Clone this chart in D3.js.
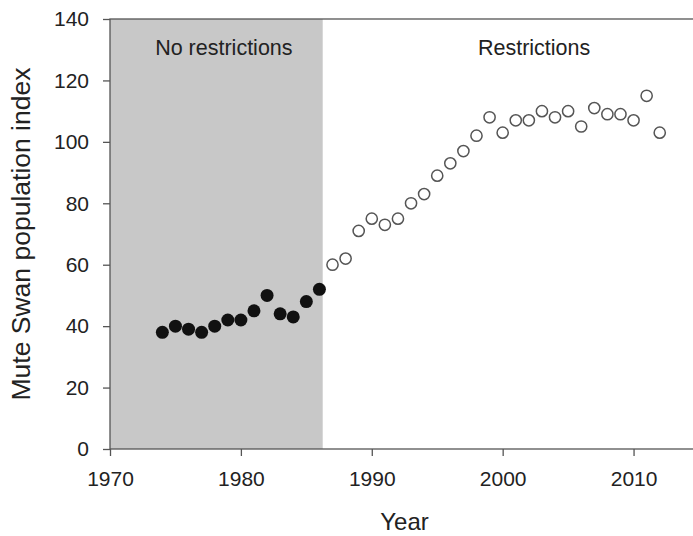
<!DOCTYPE html>

<head>
    <meta charset="utf-8">
    <title>Mute Swan</title>
    <style>
        body { margin: 0; background: #fff; }
        svg { display: block; font-family: "Liberation Sans", Arial, sans-serif; }
        .axis path, .axis line { stroke: #555; stroke-width: 1.3; }
        .axis text { fill: #222; font-size: 21px; }
    </style>
</head>

<body>
    <script src="https://d3js.org/d3.v7.min.js"></script>
    <script>
        // values
        var yearsBefore = [1974, 1975, 1976, 1977, 1978, 1979, 1980, 1981, 1982, 1983, 1984, 1985, 1986];
        var indexBefore = [38, 40, 39, 38, 40, 42, 42, 45, 50, 44, 43, 48, 52];
        var yearsAfter = [1987, 1988, 1989, 1990, 1991, 1992, 1993, 1994, 1995, 1996, 1997, 1998, 1999,
            2000, 2001, 2002, 2003, 2004, 2005, 2006, 2007, 2008, 2009, 2010, 2011, 2012];
        var indexAfter = [60, 62, 71, 75, 73, 75, 80, 83, 89, 93, 97, 102, 108,
            103, 107, 107, 110, 108, 110, 105, 111, 109, 109, 107, 115, 103];
        var xTicks = [1970, 1980, 1990, 2000, 2010];
        var yTicks = [0, 20, 40, 60, 80, 100, 120, 140];
        var periodEnd = 1986.25;
        var periodLabels = ["No restrictions", "Restrictions"];
        var periodLabelYears = [1978.7, 2002.4];

        var margin = {
                top: 19,
                left: 110
            },
            width = 693,
            height = 536;

        var x = d3.scaleLinear().domain([1970, 2015]).range([margin.left, 699]);
        var y = d3.scaleLinear().domain([0, 140]).range([449, margin.top]);

        var svg = d3.select("body").append("svg")
            .attr("width", width)
            .attr("height", height);

        // shaded period without restrictions
        svg.append("rect")
            .attr("x", x(1970))
            .attr("y", y(140))
            .attr("width", x(periodEnd) - x(1970))
            .attr("height", y(0) - y(140))
            .attr("fill", "#c8c8c8");

        // frame (right side falls outside the picture)
        svg.append("rect")
            .attr("x", x(1970))
            .attr("y", y(140))
            .attr("width", x(2015) - x(1970))
            .attr("height", y(0) - y(140))
            .attr("fill", "none")
            .attr("stroke", "#555")
            .attr("stroke-width", 1.3);

        svg.append("g")
            .attr("class", "axis")
            .attr("transform", "translate(0," + y(0) + ")")
            .call(d3.axisBottom(x).tickValues(xTicks).tickFormat(d3.format("d")).tickSize(7).tickPadding(15))
            .call(function (g) { g.select(".domain").remove(); });

        svg.append("g")
            .attr("class", "axis")
            .attr("transform", "translate(" + x(1970) + ",0)")
            .call(d3.axisLeft(y).tickValues(yTicks).tickSize(7).tickPadding(14))
            .call(function (g) { g.select(".domain").remove(); });

        svg.selectAll(".period-label")
            .data(periodLabels)
            .enter().append("text")
            .attr("class", "period-label")
            .attr("x", function (d, i) { return x(periodLabelYears[i]); })
            .attr("y", 55)
            .attr("text-anchor", "middle")
            .attr("fill", "#222")
            .style("font-size", "21.5px")
            .text(function (d) { return d; });

        svg.selectAll(".before")
            .data(yearsBefore)
            .enter().append("circle")
            .attr("class", "before")
            .attr("cx", function (d) { return x(d); })
            .attr("cy", function (d, i) { return y(indexBefore[i]); })
            .attr("r", 6.5)
            .attr("fill", "#111");

        svg.selectAll(".after")
            .data(yearsAfter)
            .enter().append("circle")
            .attr("class", "after")
            .attr("cx", function (d) { return x(d); })
            .attr("cy", function (d, i) { return y(indexAfter[i]); })
            .attr("r", 5.6)
            .attr("fill", "#fff")
            .attr("stroke", "#555")
            .attr("stroke-width", 1.5);

        svg.append("text")
            .attr("x", (x(1970) + x(2015)) / 2)
            .attr("y", 530)
            .attr("text-anchor", "middle")
            .attr("fill", "#222")
            .style("font-size", "24px")
            .text("Year");

        svg.append("text")
            .attr("transform", "translate(30," + ((y(0) + y(140)) / 2) + ") rotate(-90)")
            .attr("text-anchor", "middle")
            .attr("fill", "#222")
            .style("font-size", "26.5px")
            .text("Mute Swan population index");
    </script>
</body>
